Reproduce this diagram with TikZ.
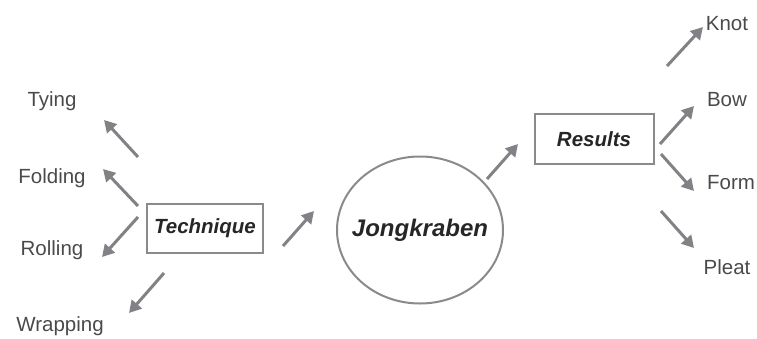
\documentclass[tikz,border=0pt]{standalone}
\usepackage{fontspec}
\setmainfont{Liberation Sans}
\usetikzlibrary{arrows.meta,shapes.geometric}
\definecolor{arrowgray}{HTML}{808285}
\definecolor{boxgray}{HTML}{8A8A8A}
\definecolor{labelgray}{HTML}{4A4A4A}
\begin{document}
\begin{tikzpicture}[x=1pt,y=-1pt,
  lbl/.style={text=labelgray,font=\fontsize{20.5}{22}\selectfont,inner sep=0pt},
  boxnode/.style={draw=boxgray,line width=2pt,fill=white,text=black!85,font=\fontsize{20.5}{22}\selectfont\bfseries\itshape,minimum width=116pt,minimum height=49pt,inner sep=0pt},
  arr/.style={draw=arrowgray,line width=3pt,-{Triangle[length=12pt,width=13pt]}}]
\useasboundingbox (0,0) rectangle (757,338);
% nodes
\node[lbl] (tying) at (52,101) {Tying};
\node[lbl] (folding) at (52,178) {Folding};
\node[lbl] (rolling) at (52,250) {Rolling};
\node[lbl] (wrapping) at (60,326) {Wrapping};
\node[boxnode] (tech) at (205,228) {Technique};
\node[ellipse,draw=boxgray,line width=2pt,minimum width=166pt,minimum height=147pt,inner xsep=-30pt,inner ysep=0pt,text=black!85,font=\fontsize{24}{26}\selectfont\bfseries\itshape] (jong) at (420,230) {Jongkraben};
\node[boxnode,minimum width=119pt,minimum height=50pt] (res) at (594,139) {Results};
\node[lbl] (knot) at (727,24) {Knot};
\node[lbl] (bow) at (727,100) {Bow};
\node[lbl] (form) at (731,183) {Form};
\node[lbl] (pleat) at (727,267) {Pleat};
% arrow end points
\coordinate (t1) at (138,157); \coordinate (h1) at (104,120);
\coordinate (t2) at (138,206); \coordinate (h2) at (103,169);
\coordinate (t3) at (138,217); \coordinate (h3) at (102,257);
\coordinate (t4) at (164,273); \coordinate (h4) at (129,313);
\coordinate (t5) at (283,246); \coordinate (h5) at (314,211);
\coordinate (t6) at (487,179); \coordinate (h6) at (518,144);
\coordinate (t7) at (667,66);  \coordinate (h7) at (703,27);
\coordinate (t8) at (660,144); \coordinate (h8) at (694,106);
\coordinate (t9) at (661,154); \coordinate (h9) at (694,191);
\coordinate (t10) at (661,211); \coordinate (h10) at (694,248);
\foreach \i in {1,...,10} {\draw[arr] (t\i) -- (h\i);}
\end{tikzpicture}
\end{document}
